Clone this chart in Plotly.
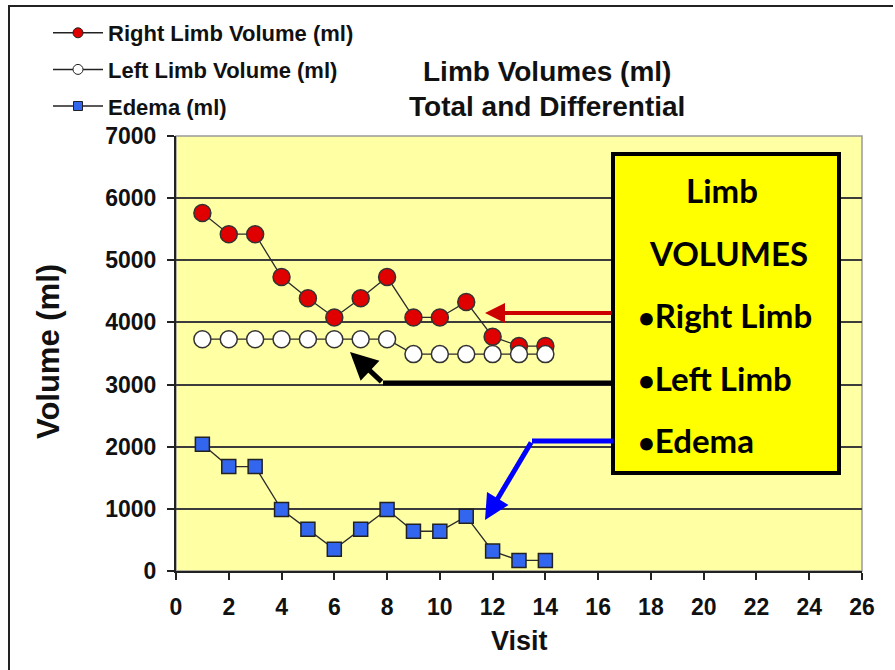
import plotly.graph_objects as go

# Limb volume measurements per visit
visits = [1, 2, 3, 4, 5, 6, 7, 8, 9, 10, 11, 12, 13, 14]
right_limb = [5760, 5420, 5420, 4730, 4390, 4080, 4390, 4730, 4080, 4080, 4330, 3770, 3620, 3620]
left_limb = [3730, 3730, 3730, 3730, 3730, 3730, 3730, 3730, 3490, 3490, 3490, 3490, 3490, 3490]
edema = [2040, 1680, 1680, 990, 670, 350, 670, 990, 640, 640, 880, 320, 170, 170]

series_names = ["Right Limb Volume (ml)", "Left Limb Volume (ml)", "Edema (ml)"]
x_ticks = list(range(0, 27, 2))
y_ticks = list(range(0, 7001, 1000))

W, H = 895, 670
ML, MR, MT, MB = 176, 33, 136, 99
PW, PH = W - ML - MR, H - MT - MB

def px(x):
    return (x - ML) / PW

def py(y):
    return (H - MB - y) / PH

FONT = "Liberation Sans, Arial, sans-serif"
INK = "#111111"
LINE = dict(color="#2b2b2b", width=1.3)

styles = [
    dict(symbol="circle", size=17, color="#E00000", line=dict(color="#333333", width=1.5)),
    dict(symbol="circle", size=17, color="#FFFFFF", line=dict(color="#333333", width=1.5)),
    dict(symbol="square", size=14, color="#3366EE", line=dict(color="#222222", width=1.5)),
]

fig = go.Figure()
for name, values, mk in zip(series_names, [right_limb, left_limb, edema], styles):
    fig.add_trace(go.Scatter(
        x=visits, y=values, name=name, mode="lines+markers",
        line=LINE, marker=mk, showlegend=False,
    ))

# legend entries with smaller symbols
for i, (name, mk) in enumerate(zip(series_names, styles)):
    small = dict(mk)
    small["size"] = 10 if mk["symbol"] == "circle" else 9
    small["line"] = dict(color="#222222", width=1)
    fig.add_trace(go.Scatter(
        x=[None], y=[None], name=f"<b>{name}</b>", mode="lines+markers",
        line=dict(color="#222222", width=1.5), marker=small,
        legendgroup=f"g{i}", showlegend=True,
    ))

shapes = [
    # outer frame
    dict(type="path", xref="paper", yref="paper",
         path=f"M {px(9)},{py(670)} L {px(9)},{py(6)} L {px(893)},{py(6)}",
         line=dict(color="#222222", width=2)),
    # plot area border
    dict(type="rect", xref="paper", yref="paper", x0=0, y0=0, x1=1, y1=1,
         line=dict(color="#9a9a9a", width=1.5), layer="below"),
    # callout box
    dict(type="rect", xref="paper", yref="paper",
         x0=px(613), x1=px(839), y0=py(473), y1=py(154),
         fillcolor="#FFFF00", line=dict(color="#000000", width=4)),
    # arrow shafts
    dict(type="line", xref="paper", yref="paper",
         x0=px(383), x1=px(613), y0=py(383), y1=py(383),
         line=dict(color="#000000", width=5)),
    dict(type="line", xref="paper", yref="paper",
         x0=px(532), x1=px(613), y0=py(441), y1=py(441),
         line=dict(color="#0000FF", width=5)),
]

TITLE_FONT = dict(family=FONT, size=28, color=INK)
BOX_FONT = dict(family="Lato, Noto Sans, sans-serif", size=33, color="#000000")
BULLET = '<span style="font-size:29px">•</span>'

def label(text, x, y, font, xanchor="center", **kw):
    return dict(text=text, xref="paper", yref="paper", x=px(x), y=py(y),
                xanchor=xanchor, yanchor="middle", showarrow=False, font=font, **kw)

annotations = [
    label("<b>Limb Volumes (ml)</b>", 547, 71, TITLE_FONT),
    label("<b>Total and Differential</b>", 547, 106, TITLE_FONT),
    label("<b>Limb</b>", 722, 190, BOX_FONT),
    label("<b>VOLUMES</b>", 728, 253, BOX_FONT),
    label(f"<b>{BULLET}Right Limb</b>", 636, 315, BOX_FONT, xanchor="left"),
    label(f"<b>{BULLET}Left Limb</b>", 636, 378, BOX_FONT, xanchor="left"),
    label(f"<b>{BULLET}Edema</b>", 636, 440, BOX_FONT, xanchor="left"),
    # axis titles
    label("<b>Volume (ml)</b>", 48, 352, dict(family=FONT, size=31, color=INK), textangle=-90),
    label("<b>Visit</b>", 519, 641, dict(family=FONT, size=27, color=INK)),
    # arrows pointing at the series
    dict(text="", xref="paper", yref="paper", x=px(485), y=py(313),
         ax=128, ay=0, showarrow=True, arrowhead=2, arrowsize=1,
         arrowwidth=4, arrowcolor="#CC0000"),
    dict(text="", xref="paper", yref="paper", x=px(350), y=py(352),
         ax=33, ay=31, showarrow=True, arrowhead=2, arrowsize=1.1,
         arrowwidth=5, arrowcolor="#000000"),
    dict(text="", xref="paper", yref="paper", x=px(485), y=py(520),
         ax=47, ay=-79, showarrow=True, arrowhead=2, arrowsize=1,
         arrowwidth=5, arrowcolor="#0000FF"),
]

fig.update_layout(
    width=W, height=H,
    margin=dict(l=ML, r=MR, t=MT, b=MB, autoexpand=False),
    paper_bgcolor="#FFFFFF",
    plot_bgcolor="#FFFFA3",
    font=dict(family=FONT, color=INK),
    shapes=shapes,
    annotations=annotations,
    showlegend=True,
    legend=dict(
        x=px(48), y=py(12), xanchor="left", yanchor="top",
        font=dict(family=FONT, size=22, color=INK),
        bgcolor="rgba(0,0,0,0)", itemsizing="trace",
        tracegroupgap=5, itemwidth=50,
    ),
    xaxis=dict(
        range=[0, 26], tickvals=x_ticks, ticktext=[f"<b>{v}</b>" for v in x_ticks],
        showgrid=False, zeroline=False,
        showline=True, linecolor="#222222", linewidth=2,
        ticks="outside", ticklen=7, tickwidth=2, tickcolor="#222222",
        ticklabelstandoff=7,
        tickfont=dict(family=FONT, size=23, color=INK),
    ),
    yaxis=dict(
        range=[0, 7000], tickvals=y_ticks, ticktext=[f"<b>{v}</b>" for v in y_ticks],
        showgrid=True, gridcolor="#3c3c3c", gridwidth=1.8,
        zeroline=False,
        showline=True, linecolor="#222222", linewidth=2,
        ticks="outside", ticklen=7, tickwidth=2, tickcolor="#222222",
        ticklabelstandoff=6,
        tickfont=dict(family=FONT, size=23, color=INK),
    ),
)

fig.write_html("out.html")
